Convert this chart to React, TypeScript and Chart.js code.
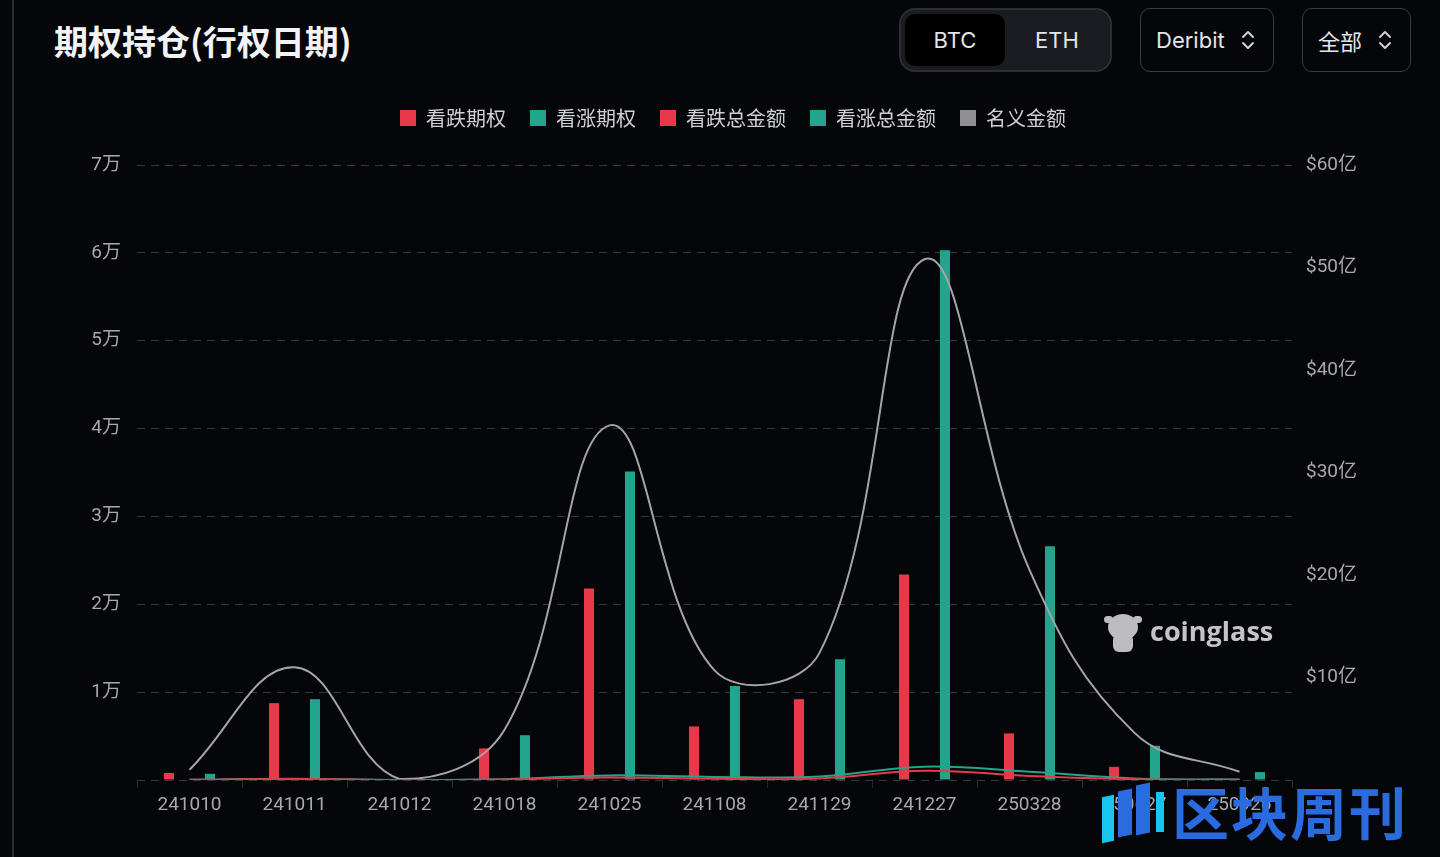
import React, { useEffect, useRef } from 'react';
import { Chart, registerables } from 'chart.js';

Chart.register(...registerables);

// ---- data ----
const expiryDates = ['241010', '241011', '241012', '241018', '241025', '241108', '241129', '241227', '250328', '250627', '250926'];
const putOpenInterest = [800, 8750, 60, 3600, 21800, 6100, 9200, 23400, 5300, 1500, 60];
const callOpenInterest = [700, 9200, 80, 5100, 35100, 10700, 13750, 60300, 26600, 3900, 900];
// values in 亿美元
const putTotalValue = [0.02, 0.1, 0.01, 0.05, 0.25, 0.12, 0.15, 0.9, 0.4, 0.08, 0.02];
const callTotalValue = [0.03, 0.12, 0.01, 0.08, 0.45, 0.3, 0.35, 1.3, 0.8, 0.15, 0.05];
const notionalValue = [1.0, 11.0, 0.1, 4.9, 34.6, 10.7, 12.4, 50.8, 20.5, 4.6, 0.8];

const seriesLabels = ['看跌期权', '看涨期权', '看跌总金额', '看涨总金额', '名义金额'];
const leftMax = 70000;
const leftStep = 10000;
const rightMax = 60;
const rightStep = 10;

const RED = '#e8394b';
const TEAL = '#22a58c';
const GREY = '#a5a5a8';
const BG = '#05060a';

const Chevrons = () => (
  <svg width="14" height="24" viewBox="0 0 14 24" style={{ display: 'block' }}>
    <polyline points="2,9 7,4 12,9" fill="none" stroke="#cfd0d4" strokeWidth="2" strokeLinecap="round" strokeLinejoin="round" />
    <polyline points="2,15 7,20 12,15" fill="none" stroke="#cfd0d4" strokeWidth="2" strokeLinecap="round" strokeLinejoin="round" />
  </svg>
);

export default function App() {
  const ref = useRef<HTMLCanvasElement>(null);

  useEffect(() => {
    const legendSpacer = {
      id: 'legendSpacer',
      beforeInit(chart: any) {
        const legend = chart.legend;
        if (!legend) return;
        const fit = legend.fit;
        legend.fit = function () {
          fit.call(legend);
          legend.height += 27;
        };
      },
    };

    const tickFont = { family: 'Roboto, "Noto Sans CJK SC", sans-serif', size: 19 };

    const chart = new Chart(ref.current as HTMLCanvasElement, {
      type: 'bar',
      data: {
        labels: expiryDates,
        datasets: [
          {
            type: 'bar',
            label: seriesLabels[0],
            data: putOpenInterest,
            backgroundColor: RED,
            borderWidth: 0,
            yAxisID: 'y',
            order: 2,
            categoryPercentage: 0.78,
            barPercentage: 0.245,
          },
          {
            type: 'bar',
            label: seriesLabels[1],
            data: callOpenInterest,
            backgroundColor: TEAL,
            borderWidth: 0,
            yAxisID: 'y',
            order: 2,
            categoryPercentage: 0.78,
            barPercentage: 0.245,
          },
          {
            type: 'line',
            label: seriesLabels[2],
            data: putTotalValue,
            borderColor: RED,
            backgroundColor: RED,
            borderWidth: 2,
            pointRadius: 0,
            tension: 0.4,
            yAxisID: 'y1',
            order: 1,
          },
          {
            type: 'line',
            label: seriesLabels[3],
            data: callTotalValue,
            borderColor: TEAL,
            backgroundColor: TEAL,
            borderWidth: 2,
            pointRadius: 0,
            tension: 0.4,
            yAxisID: 'y1',
            order: 1,
          },
          {
            type: 'line',
            label: seriesLabels[4],
            data: notionalValue,
            borderColor: GREY,
            backgroundColor: '#8f8f92',
            borderWidth: 2,
            pointRadius: 0,
            tension: 0.4,
            yAxisID: 'y1',
            order: 1,
          },
        ] as any,
      },
      options: {
        animation: false,
        responsive: true,
        maintainAspectRatio: false,
        layout: { padding: { top: 84, left: 26, right: 0, bottom: 0 } },
        plugins: {
          tooltip: { enabled: false },
          legend: {
            position: 'top',
            labels: {
              color: '#cfd0d4',
              font: { family: '"Noto Sans CJK SC", sans-serif', size: 20 },
              boxWidth: 16,
              boxHeight: 16,
              padding: 24,
              sort: (a: any, b: any) => a.datasetIndex - b.datasetIndex,
              generateLabels: (c: any) =>
                Chart.defaults.plugins.legend.labels.generateLabels(c).map((l: any) => ({
                  ...l,
                  lineWidth: 0,
                  strokeStyle: 'transparent',
                  fillStyle: c.data.datasets[l.datasetIndex].backgroundColor,
                })),
            },
          },
        },
        scales: {
          x: {
            grid: {
              offset: true,
              drawOnChartArea: false,
              drawTicks: true,
              tickLength: 8,
              color: '#25262b',
            },
            border: { display: false },
            ticks: { color: '#a7a9ae', font: { family: 'Roboto, sans-serif', size: 19 }, padding: 6 },
            afterFit: (s: any) => {
              s.height = 77;
            },
          },
          y: {
            position: 'left',
            min: 0,
            max: leftMax,
            ticks: {
              stepSize: leftStep,
              color: '#a7a9ae',
              font: tickFont,
              padding: 16,
              callback: (v: any) => (v === 0 ? '' : `${v / 10000}万`),
            },
            grid: {
              color: '#35363c',
              lineWidth: 1,
              drawTicks: false,
            },
            border: { display: false, dash: [8, 6] },
            afterFit: (s: any) => {
              s.width = 111;
            },
          },
          y1: {
            position: 'right',
            min: 0,
            max: rightMax,
            ticks: {
              stepSize: rightStep,
              color: '#a7a9ae',
              font: tickFont,
              padding: 14,
              callback: (v: any) => (v === 0 ? '' : `$${v}亿`),
            },
            grid: { display: false, drawTicks: false },
            border: { display: false },
            afterFit: (s: any) => {
              s.width = 148;
            },
          },
        },
      } as any,
      plugins: [legendSpacer],
    });

    return () => chart.destroy();
  }, []);

  const boxBase: React.CSSProperties = {
    position: 'absolute',
    boxSizing: 'border-box',
    display: 'flex',
    alignItems: 'center',
    color: '#e4e5e8',
    fontFamily: 'Inter, "Noto Sans CJK SC", sans-serif',
    fontSize: 22,
  };

  return (
    <div style={{ position: 'fixed', left: 0, top: 0, width: 1440, height: 857, background: BG, overflow: 'hidden' }}>
      <div style={{ position: 'absolute', left: 12, top: 0, width: 2, height: 857, background: '#2b2d33' }} />
      <div
        style={{
          position: 'absolute',
          left: 54,
          top: 16,
          color: '#f3f3f5',
          fontFamily: '"Noto Sans CJK SC", sans-serif',
          fontWeight: 700,
          fontSize: 34,
          lineHeight: '50px',
          whiteSpace: 'nowrap',
        }}
      >
        期权持仓(行权日期)
      </div>

      {/* BTC / ETH toggle */}
      <div
        style={{
          ...boxBase,
          left: 899,
          top: 8,
          width: 213,
          height: 64,
          borderRadius: 16,
          background: '#1a1c21',
          border: '2px solid #2c2e34',
        }}
      >
        <div
          style={{
            position: 'absolute',
            left: 4,
            top: 4,
            width: 100,
            height: 52,
            borderRadius: 10,
            background: '#000000',
            display: 'flex',
            alignItems: 'center',
            justifyContent: 'center',
          }}
        >
          BTC
        </div>
        <div style={{ position: 'absolute', left: 106, top: 4, width: 100, height: 52, display: 'flex', alignItems: 'center', justifyContent: 'center' }}>
          ETH
        </div>
      </div>

      {/* Deribit select */}
      <div
        style={{
          ...boxBase,
          left: 1140,
          top: 8,
          width: 134,
          height: 64,
          borderRadius: 10,
          border: '1.5px solid #3a3c43',
          paddingLeft: 15,
        }}
      >
        <span>Deribit</span>
        <div style={{ position: 'absolute', left: 100, top: 19 }}>
          <Chevrons />
        </div>
      </div>

      {/* 全部 select */}
      <div
        style={{
          ...boxBase,
          left: 1302,
          top: 8,
          width: 109,
          height: 64,
          borderRadius: 10,
          border: '1.5px solid #3a3c43',
          paddingLeft: 15,
        }}
      >
        <span>全部</span>
        <div style={{ position: 'absolute', left: 75, top: 19 }}>
          <Chevrons />
        </div>
      </div>

      <div style={{ position: 'absolute', left: 0, top: 0, width: 1440, height: 857 }}>
        <canvas ref={ref} />
      </div>

      {/* coinglass watermark */}
      <div style={{ position: 'absolute', left: 1104, top: 610, width: 38, height: 44, pointerEvents: 'none' }}>
        <div style={{ position: 'absolute', left: 4, top: 4, width: 30, height: 26, borderRadius: '50%', background: '#bdbdc0' }} />
        <div style={{ position: 'absolute', left: 0, top: 6, width: 9, height: 7, borderRadius: 4, background: '#bdbdc0' }} />
        <div style={{ position: 'absolute', left: 29, top: 6, width: 9, height: 7, borderRadius: 4, background: '#bdbdc0' }} />
        <div style={{ position: 'absolute', left: 9, top: 24, width: 20, height: 18, borderRadius: 6, background: '#bdbdc0' }} />
      </div>
      <div
        style={{
          position: 'absolute',
          left: 1150,
          top: 613,
          color: '#c4c4c7',
          fontFamily: '"Open Sans", sans-serif',
          fontWeight: 700,
          fontSize: 27,
          lineHeight: '36px',
          pointerEvents: 'none',
        }}
      >
        coinglass
      </div>

      {/* 区块周刊 watermark */}
      <div style={{ position: 'absolute', left: 1100, top: 784, width: 70, height: 62, pointerEvents: 'none' }}>
        <div style={{ position: 'absolute', left: 2, top: 12, width: 12, height: 46, background: '#18c4f0', transform: 'skewY(-12deg)' }} />
        <div style={{ position: 'absolute', left: 18, top: 6, width: 14, height: 46, background: '#2a6be0', transform: 'skewY(-12deg)' }} />
        <div style={{ position: 'absolute', left: 36, top: 0, width: 14, height: 50, background: '#2a6be0', transform: 'skewY(-12deg)' }} />
        <div style={{ position: 'absolute', left: 56, top: 8, width: 8, height: 40, background: '#18c4f0' }} />
      </div>
      <div
        style={{
          position: 'absolute',
          left: 1172,
          top: 778,
          color: '#2a6be0',
          fontFamily: '"Noto Sans CJK SC", sans-serif',
          fontWeight: 700,
          fontSize: 57,
          lineHeight: '64px',
          letterSpacing: 2,
          whiteSpace: 'nowrap',
          pointerEvents: 'none',
        }}
      >
        区块周刊
      </div>
    </div>
  );
}
